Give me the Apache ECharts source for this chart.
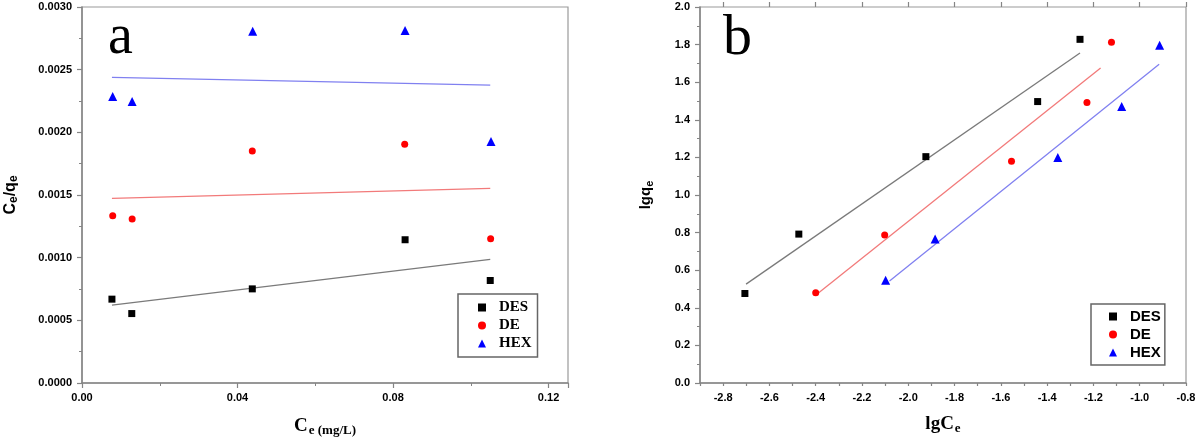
<!DOCTYPE html>
<html>
<head>
<meta charset="utf-8">
<script src="https://cdn.jsdelivr.net/npm/echarts@6/dist/echarts.min.js"></script>
<style>html,body{margin:0;padding:0;background:#fff;}#c{width:1200px;height:437px;}</style>
</head>
<body>
<div id="c"></div>
<script>
// ---- Panel a : Ce/qe vs Ce ----
const desCe   = [0.0077, 0.0128, 0.0438, 0.0831, 0.1050];
const desCeQe = [0.000669, 0.000554, 0.000751, 0.001143, 0.000818];
const deCe    = [0.0079, 0.0129, 0.0438, 0.0830, 0.1051];
const deCeQe  = [0.001335, 0.001308, 0.001852, 0.001905, 0.001151];
const hexCe   = [0.0079, 0.0129, 0.0439, 0.0831, 0.1052];
const hexCeQe = [0.002286, 0.002246, 0.002806, 0.002813, 0.001926];
const desFitA = [[0.0077, 0.000621], [0.1050, 0.000986]];
const deFitA  = [[0.0077, 0.001473], [0.1050, 0.001553]];
const hexFitA = [[0.0077, 0.002438], [0.1050, 0.002377]];

// ---- Panel b : lgqe vs lgCe ----
const desLgCe = [-2.706, -2.473, -1.924, -1.441, -1.258];
const desLgQe = [0.476, 0.792, 1.204, 1.497, 1.828];
const deLgCe  = [-2.400, -2.102, -1.554, -1.228, -1.122];
const deLgQe  = [0.480, 0.787, 1.179, 1.492, 1.812];
const hexLgCe = [-2.098, -1.884, -1.354, -1.078, -0.914];
const hexLgQe = [0.547, 0.766, 1.199, 1.471, 1.797];
const desFitB = [[-2.701, 0.526], [-1.258, 1.755]];
const deFitB  = [[-2.387, 0.480], [-1.169, 1.675]];
const hexFitB = [[-2.081, 0.542], [-0.916, 1.696]];

const seriesNames = ['DES', 'DE', 'HEX'];
const bLabelValues = [-2.8, -2.6, -2.4, -2.2, -2.0, -1.8, -1.6, -1.4, -1.2, -1.0, -0.8];

const zip = (xs, ys) => xs.map((x, i) => [x, ys[i]]);

const axisGrey = '#858585';
const tickFont = {fontFamily: 'Liberation Sans, Arial', fontWeight: 'bold', fontSize: 11, color: '#000'};

function scatter(name, data, xi, symbol, size, color) {
  return {type: 'scatter', name: name, xAxisIndex: xi, yAxisIndex: xi, data: data,
    symbol: symbol, symbolSize: size, itemStyle: {color: color, opacity: 1}, z: 3};
}
function fit(name, data, xi, color) {
  return {type: 'line', name: name, xAxisIndex: xi, yAxisIndex: xi, data: data,
    symbol: 'none', lineStyle: {color: color, width: 1.3}, z: 2};
}

const chart = echarts.init(document.getElementById('c'), null, {renderer: 'canvas'});
chart.setOption({
  animation: false,
  backgroundColor: '#fff',
  grid: [
    {left: 82, top: 7, width: 486, height: 376, show: true, borderColor: '#9a9a9a', borderWidth: 1.2,
      containLabel: false, outerBoundsMode: 'none'},
    {left: 700, top: 7, width: 486, height: 376, show: true, borderColor: '#9a9a9a', borderWidth: 1.2,
      containLabel: false, outerBoundsMode: 'none'}
  ],
  xAxis: [
    {type: 'value', gridIndex: 0, min: 0, max: 0.125, interval: 0.04,
      axisLine: {show: true, lineStyle: {color: axisGrey, width: 1.5}},
      axisTick: {show: true, length: 5, lineStyle: {color: axisGrey, width: 1.2}},
      minorTick: {show: true, splitNumber: 2, length: 3, lineStyle: {color: axisGrey}},
      splitLine: {show: false},
      axisLabel: Object.assign({margin: 9, showMaxLabel: false,
        formatter: v => (Math.abs(v - 0.125) < 1e-9 ? '' : v.toFixed(2))}, tickFont),
      name: '{c|C}{s|e (mg/L)}', nameLocation: 'middle', nameGap: 32,
      nameTextStyle: {rich: {
        c: {fontFamily: 'Liberation Serif, Times New Roman', fontWeight: 'bold', fontSize: 19, color: '#000'},
        s: {fontFamily: 'Liberation Serif, Times New Roman', fontWeight: 'bold', fontSize: 13, color: '#000', padding: [9, 0, 0, 1]}
      }}
    },
    {type: 'value', gridIndex: 1, min: -2.9, max: -0.8, interval: 0.1,
      axisLine: {show: true, lineStyle: {color: axisGrey, width: 1.5}},
      axisTick: {show: true, length: 3, lineStyle: {color: axisGrey, width: 1.2}},
      splitLine: {show: false},
      axisLabel: Object.assign({margin: 9, customValues: bLabelValues,
        formatter: v => v.toFixed(1)}, tickFont),
      name: '{c|lgC}{s|e}', nameLocation: 'middle', nameGap: 30,
      nameTextStyle: {rich: {
        c: {fontFamily: 'Liberation Serif, Times New Roman', fontWeight: 'bold', fontSize: 19, color: '#000'},
        s: {fontFamily: 'Liberation Serif, Times New Roman', fontWeight: 'bold', fontSize: 13, color: '#000', padding: [9, 0, 0, 1]}
      }}
    },
    {type: 'value', gridIndex: 1, min: -2.9, max: -0.8,
      axisLine: {show: false},
      axisTick: {show: true, length: 5, customValues: bLabelValues, lineStyle: {color: axisGrey, width: 1.2}},
      axisLabel: {show: false},
      splitLine: {show: false}
    }
  ],
  yAxis: [
    {type: 'value', gridIndex: 0, min: 0, max: 0.003, interval: 0.0005,
      axisLine: {show: true, lineStyle: {color: axisGrey, width: 1.5}},
      axisTick: {show: true, length: 5, lineStyle: {color: axisGrey, width: 1.2}},
      minorTick: {show: true, splitNumber: 2, length: 3, lineStyle: {color: axisGrey}},
      splitLine: {show: false},
      axisLabel: Object.assign({margin: 10, formatter: v => v.toFixed(4)}, tickFont),
      name: '{c|C}{s|e}{c|/q}{s|e}', nameLocation: 'middle', nameGap: 62, nameRotate: 90,
      nameTextStyle: {rich: {
        c: {fontFamily: 'Liberation Sans, Arial', fontWeight: 'bold', fontSize: 16, color: '#000'},
        s: {fontFamily: 'Liberation Sans, Arial', fontWeight: 'bold', fontSize: 12, color: '#000', padding: [7, 0, 0, 0]}
      }}
    },
    {type: 'value', gridIndex: 1, min: 0, max: 2, interval: 0.2,
      axisLine: {show: true, lineStyle: {color: axisGrey, width: 1.5}},
      axisTick: {show: true, length: 5, lineStyle: {color: axisGrey, width: 1.2}},
      minorTick: {show: true, splitNumber: 2, length: 3, lineStyle: {color: axisGrey}},
      splitLine: {show: false},
      axisLabel: Object.assign({margin: 10, formatter: v => v.toFixed(1)}, tickFont),
      name: '{c|lgq}{s|e}', nameLocation: 'middle', nameGap: 45, nameRotate: 90,
      nameTextStyle: {rich: {
        c: {fontFamily: 'Liberation Sans, Arial', fontWeight: 'bold', fontSize: 15, color: '#000'},
        s: {fontFamily: 'Liberation Sans, Arial', fontWeight: 'bold', fontSize: 11, color: '#000', padding: [7, 0, 0, 0]}
      }}
    }
  ],
  legend: [
    {left: 458, top: 294, orient: 'vertical', itemGap: 3, itemWidth: 8, itemHeight: 8,
      padding: [6, 6, 6, 20], borderColor: '#666', borderWidth: 1.5, selectedMode: false,
      textStyle: {fontFamily: 'Liberation Serif, Times New Roman', fontWeight: 'bold', fontSize: 15, color: '#000', padding: [0, 0, 0, 8]},
      data: [{name: 'DES', icon: 'rect'}, {name: 'DE', icon: 'circle'}, {name: 'HEX', icon: 'triangle'}]
    },
    {left: 1091, top: 304, orient: 'vertical', itemGap: 3, itemWidth: 8, itemHeight: 8,
      padding: [5, 4, 5, 18], borderColor: '#666', borderWidth: 1.5, selectedMode: false,
      textStyle: {fontFamily: 'Liberation Sans, Arial', fontWeight: 'bold', fontSize: 15, color: '#000', padding: [0, 0, 0, 8]},
      data: [{name: 'DES', icon: 'rect'}, {name: 'DE', icon: 'circle'}, {name: 'HEX', icon: 'triangle'}]
    }
  ],
  graphic: [
    {type: 'text', left: 108, top: 10, style: {text: 'a', font: '56px "Liberation Serif", "Times New Roman", serif', fill: '#000'}},
    {type: 'text', left: 723, top: 10, style: {text: 'b', font: '58px "Liberation Serif", "Times New Roman", serif', fill: '#000'}}
  ],
  series: [
    fit('DES fit a', desFitA, 0, '#7a7a7a'),
    fit('DE fit a', deFitA, 0, '#f27a7a'),
    fit('HEX fit a', hexFitA, 0, '#8080f0'),
    scatter(seriesNames[0], zip(desCe, desCeQe), 0, 'rect', 7, '#000000'),
    scatter(seriesNames[1], zip(deCe, deCeQe), 0, 'circle', 7, '#ff0000'),
    scatter(seriesNames[2], zip(hexCe, hexCeQe), 0, 'triangle', 9, '#0000ff'),
    fit('DES fit b', desFitB, 1, '#7a7a7a'),
    fit('DE fit b', deFitB, 1, '#f27a7a'),
    fit('HEX fit b', hexFitB, 1, '#8080f0'),
    scatter(seriesNames[0], zip(desLgCe, desLgQe), 1, 'rect', 7, '#000000'),
    scatter(seriesNames[1], zip(deLgCe, deLgQe), 1, 'circle', 7, '#ff0000'),
    scatter(seriesNames[2], zip(hexLgCe, hexLgQe), 1, 'triangle', 9, '#0000ff')
  ]
});
</script>
</body>
</html>
